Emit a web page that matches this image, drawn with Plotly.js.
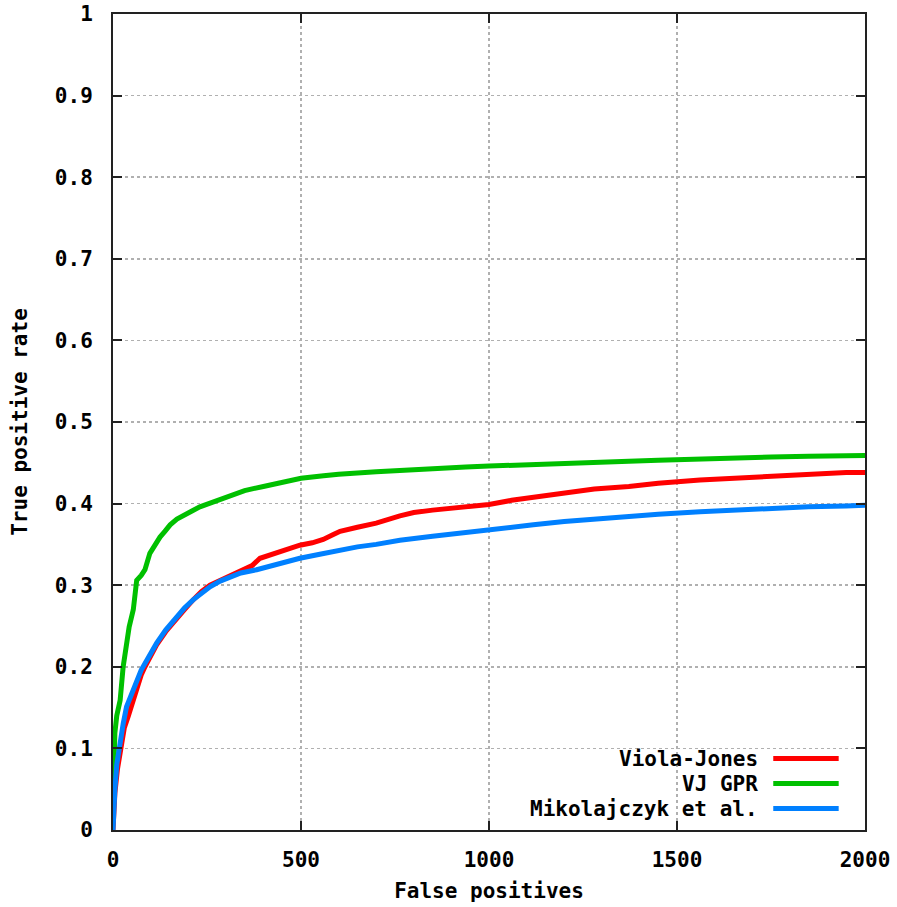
<!DOCTYPE html>
<html>
<head>
<meta charset="utf-8">
<script src="https://cdn.plot.ly/plotly-3.0.1.min.js"></script>
<style>html,body{margin:0;padding:0;background:#fff;}#chart{width:897px;height:907px;}</style>
</head>
<body>
<div id="chart"></div>
<script>
// Series names
const seriesNames = ["Viola-Jones", "VJ GPR", "Mikolajczyk et al."];
const seriesColors = ["#ff0000", "#00c000", "#0080ff"];

// Viola-Jones (red)
const vjX = [0, 2, 5, 12, 20, 30, 41, 52, 63, 75, 85, 100, 116, 140, 169, 190, 213, 235, 258, 285, 311, 340, 370, 391, 430, 471, 497, 530, 559, 586, 604, 650, 700, 763, 800, 850, 938, 1000, 1060, 1118, 1200, 1280, 1372, 1450, 1561, 1650, 1750, 1850, 1950, 2000];
const vjY = [0, 0.02, 0.045, 0.075, 0.1, 0.125, 0.14, 0.157, 0.175, 0.19, 0.2, 0.214, 0.227, 0.243, 0.26, 0.27, 0.282, 0.292, 0.3, 0.306, 0.312, 0.318, 0.324, 0.333, 0.339, 0.346, 0.349, 0.352, 0.356, 0.362, 0.366, 0.371, 0.376, 0.385, 0.389, 0.392, 0.396, 0.399, 0.404, 0.408, 0.413, 0.418, 0.421, 0.425, 0.429, 0.431, 0.434, 0.436, 0.438, 0.438];

// VJ GPR (green)
const gprX = [0, 1, 3, 5, 10, 19, 27, 35, 43, 54, 63, 75, 85, 98, 112, 125, 138, 152, 170, 187, 210, 231, 255, 276, 310, 350, 400, 450, 500, 560, 600, 700, 800, 938, 1000, 1100, 1200, 1372, 1450, 1561, 1650, 1750, 1850, 1950, 2000];
const gprY = [0.04, 0.06, 0.09, 0.119, 0.14, 0.159, 0.2, 0.229, 0.249, 0.27, 0.306, 0.312, 0.319, 0.339, 0.35, 0.359, 0.366, 0.374, 0.381, 0.386, 0.391, 0.396, 0.4, 0.404, 0.41, 0.416, 0.421, 0.426, 0.431, 0.434, 0.436, 0.439, 0.442, 0.445, 0.446, 0.448, 0.449, 0.452, 0.453, 0.455, 0.456, 0.457, 0.458, 0.459, 0.459];

// Mikolajczyk et al. (blue)
const mikX = [0, 2, 5, 10, 19, 27, 36, 50, 63, 75, 85, 100, 116, 140, 169, 190, 213, 235, 258, 285, 311, 340, 382, 430, 471, 497, 550, 604, 650, 700, 763, 850, 938, 1000, 1060, 1118, 1200, 1280, 1372, 1450, 1561, 1650, 1750, 1850, 1950, 2000];
const mikY = [0, 0.03, 0.049, 0.08, 0.11, 0.13, 0.151, 0.168, 0.184, 0.196, 0.204, 0.217, 0.229, 0.245, 0.261, 0.272, 0.282, 0.29, 0.298, 0.305, 0.31, 0.315, 0.319, 0.325, 0.331, 0.333, 0.338, 0.343, 0.347, 0.35, 0.355, 0.36, 0.365, 0.368, 0.371, 0.374, 0.378, 0.381, 0.384, 0.387, 0.39, 0.392, 0.394, 0.396, 0.397, 0.398];

// Tick values / labels
const xTickVals = [0, 500, 1000, 1500, 2000];
const xTickText = ["0", "500", "1000", "1500", "2000"];
const yTickVals = [0, 0.1, 0.2, 0.3, 0.4, 0.5, 0.6, 0.7, 0.8, 0.9, 1];
const yTickText = ["0", "0.1", "0.2", "0.3", "0.4", "0.5", "0.6", "0.7", "0.8", "0.9", "1"];

const xs = [vjX, gprX, mikX];
const ys = [vjY, gprY, mikY];

const FONT = {family: "DejaVu Sans Mono", size: 21, color: "#000", weight: "bold"};

const traces = seriesNames.map((n, i) => ({
  type: "scatter", mode: "lines", name: n,
  x: xs[i], y: ys[i],
  line: {color: seriesColors[i], width: 5, shape: "linear"},
  showlegend: false, hoverinfo: "skip"
}));

// Custom legend (text right-aligned, sample line to the right) as in the reference
const legendY0 = 0.0875, legendStep = 0.0306;
const annotations = [];
const shapes = [];
seriesNames.forEach((n, i) => {
  const yy = legendY0 - i * legendStep;
  annotations.push({
    xref: "paper", yref: "paper", x: 0.861, y: yy, xanchor: "right", yanchor: "middle",
    text: n, showarrow: false, font: FONT
  });
  shapes.push({
    type: "line", xref: "paper", yref: "paper",
    x0: 0.878, x1: 0.965, y0: yy, y1: yy,
    line: {color: seriesColors[i], width: 5}
  });
});

const axisCommon = {
  showline: true, linecolor: "#222", linewidth: 2, mirror: "ticks",
  ticks: "inside", ticklen: 9, tickwidth: 2, tickcolor: "#222",
  showgrid: true, gridcolor: "#b0b0b0", gridwidth: 1.5, griddash: "dot",
  zeroline: false, tickfont: FONT, tickmode: "array"
};

const layout = {
  width: 897, height: 907,
  margin: {l: 113, r: 32, t: 14, b: 77},
  paper_bgcolor: "#fff", plot_bgcolor: "#fff",
  xaxis: Object.assign({}, axisCommon, {
    range: [0, 2000], tickvals: xTickVals, ticktext: xTickText,
    ticklabelstandoff: 10,
    title: {text: "False positives", font: FONT, standoff: 12}
  }),
  yaxis: Object.assign({}, axisCommon, {
    range: [0, 1], tickvals: yTickVals, ticktext: yTickText,
    ticklabelstandoff: 14,
    title: {text: "True positive rate", font: FONT, standoff: 22}
  }),
  annotations: annotations,
  shapes: shapes,
  showlegend: false
};

Plotly.newPlot("chart", traces, layout, {staticPlot: true, displayModeBar: false});
</script>
</body>
</html>
